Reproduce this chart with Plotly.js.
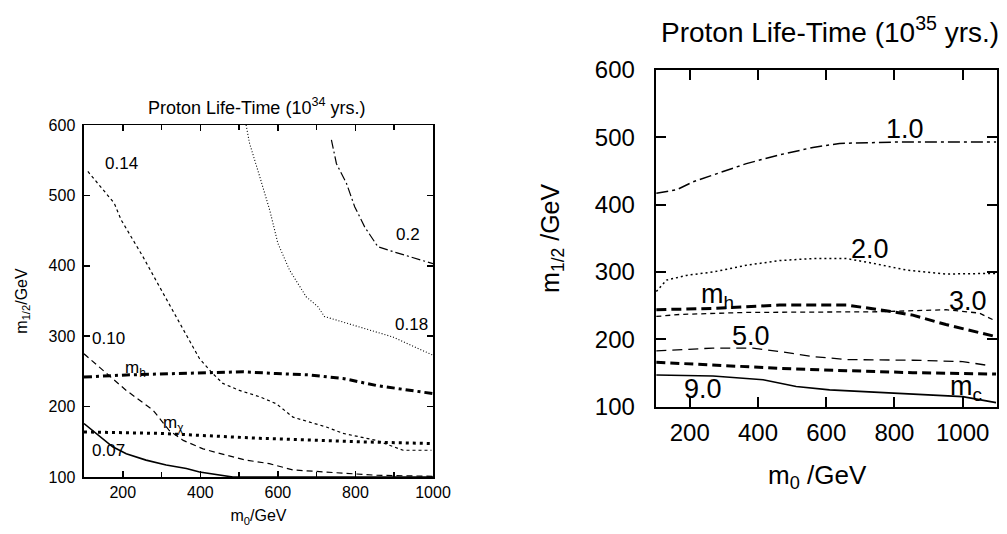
<!DOCTYPE html>
<html>
<head>
<meta charset="utf-8">
<script src="https://cdn.plot.ly/plotly-3.0.1.min.js"></script>
<style>html,body{margin:0;padding:0;background:#fff;}#chart{width:1007px;height:534px;}</style>
</head>
<body>
<div id="chart"></div>
<script>
// ---------- Left panel (10^34 yrs) ----------
const L014_x = [110, 178, 196, 252, 295, 338, 372, 398, 432, 458, 501, 553, 596, 639, 682, 725, 768, 794, 854, 923, 996];
const L014_y = [534, 489, 465, 413, 370, 328, 294, 268, 247, 233, 223, 214, 204, 185, 178, 171, 162, 159, 152, 138, 138];
const L010_x = [100, 140, 209, 278, 320, 356, 407, 467, 518, 578, 639, 725, 778, 854, 1000];
const L010_y = [275, 256, 223, 195, 166, 152, 140, 131, 124, 119, 110, 107, 105, 102.5, 101];
const L007_x = [100, 132, 174, 209, 260, 312, 364, 398, 449, 484, 600, 800, 1000];
const L007_y = [176, 162, 143, 133, 124, 117, 112, 107, 102.5, 100, 100, 100, 100];
const L018_x = [518, 527, 553, 579, 600, 630, 673, 703, 720, 810, 896, 1000];
const L018_y = [600, 574, 527, 479, 432, 394, 356, 342, 328, 313, 299, 273];
const L020_x = [738, 751, 777, 798, 824, 858, 898, 1000];
const L020_y = [579, 545, 517, 484, 455, 427, 420, 403];
const Lmh_x = [100, 209, 339, 425, 510, 596, 682, 768, 854, 1000];
const Lmh_y = [242, 245, 247, 248, 249.5, 247, 245, 240, 230, 218.5];
const Lmchi_x = [100, 295, 553, 811, 1000];
const Lmchi_y = [164, 162, 155, 150, 147.5];

// ---------- Right panel (10^35 yrs) ----------
const R10_x = [102, 161, 210, 268, 366, 463, 561, 639, 707, 805, 1098];
const R10_y = [417, 422, 434, 444, 461, 474, 485, 491, 492, 493, 493];
const R20_x = [102, 132, 190, 268, 366, 463, 561, 659, 737, 834, 951, 1098];
const R20_y = [271, 288, 295, 300, 310, 317, 320, 320, 313, 303, 297, 298];
const Rmh_x = [102, 268, 463, 659, 756, 854, 951, 1098];
const Rmh_y = [244, 246, 251, 251, 244, 236, 222, 204];
const R30_x = [102, 171, 366, 561, 756, 951, 1049, 1098];
const R30_y = [234, 237, 240, 241, 241, 244, 239, 227];
const R50_x = [102, 268, 385, 463, 561, 659, 854, 1000, 1078];
const R50_y = [183, 187, 187, 182, 174.5, 170, 169, 167, 161];
const Rmc_x = [102, 268, 463, 659, 854, 1098];
const Rmc_y = [166, 162, 157, 153.5, 150.5, 148.5];
const R90_x = [102, 268, 415, 512, 610, 756, 902, 1000, 1098];
const R90_y = [147, 145.5, 140, 130, 125, 121, 117, 115, 106];

// tick labels
const leftXTickVals = [200, 400, 600, 800, 1000];
const leftXTickText = ['200', '400', '600', '800', '1000'];
const leftXMinorVals = [300, 500, 700, 900];
const yTickVals = [100, 200, 300, 400, 500, 600];
const yTickText = ['100', '200', '300', '400', '500', '600'];
const rightXTickVals = [200, 400, 600, 800, 1000];
const rightXTickText = ['200', '400', '600', '800', '1000'];

const FONT = 'Liberation Sans, Arial, sans-serif';
const K = '#000';

function tr(x, y, xa, ya, w, dash, name) {
  return {x: x, y: y, xaxis: xa, yaxis: ya, type: 'scatter', mode: 'lines', name: name,
    line: {color: K, width: w, dash: dash}, hoverinfo: 'skip', showlegend: false};
}

const data = [
  tr(L014_x, L014_y, 'x', 'y', 1.2, '3px,3px', '0.14'),
  tr(L010_x, L010_y, 'x', 'y', 1.2, '6px,4px', '0.10'),
  tr(L007_x, L007_y, 'x', 'y', 1.6, 'solid', '0.07'),
  tr(L018_x, L018_y, 'x', 'y', 1.1, '1px,2px', '0.18'),
  tr(L020_x, L020_y, 'x', 'y', 1.2, '9px,3px,2px,3px', '0.2'),
  tr(Lmh_x, Lmh_y, 'x', 'y', 3, '8px,4px,3px,4px', 'm_h'),
  tr(Lmchi_x, Lmchi_y, 'x', 'y', 3, '3px,4px', 'm_chi'),
  tr(R10_x, R10_y, 'x2', 'y2', 1.5, '12px,4px,3px,4px', '1.0'),
  tr(R20_x, R20_y, 'x2', 'y2', 1.5, '2px,3px', '2.0'),
  tr(Rmh_x, Rmh_y, 'x2', 'y2', 3, '10px,5px', 'm_h'),
  tr(R30_x, R30_y, 'x2', 'y2', 1.3, '5px,4px', '3.0'),
  tr(R50_x, R50_y, 'x2', 'y2', 1.3, '10px,6px', '5.0'),
  tr(Rmc_x, Rmc_y, 'x2', 'y2', 3, '9px,5px', 'm_c'),
  tr(R90_x, R90_y, 'x2', 'y2', 1.6, 'solid', '9.0')
];

function ann(text, x, y, xr, yr, size, extra) {
  return Object.assign({text: text, x: x, y: y, xref: xr, yref: yr, showarrow: false,
    xanchor: 'center', yanchor: 'middle',
    font: {family: FONT, size: size, color: K}}, extra || {});
}

const annotations = [
  ann('0.14', 196, 545, 'x', 'y', 17),
  ann('0.10', 164, 297, 'x', 'y', 17),
  ann('0.07', 162, 138, 'x', 'y', 17),
  ann('0.18', 944, 316, 'x', 'y', 17),
  ann('0.2', 935, 444, 'x', 'y', 17),
  ann('m<sub>h</sub>', 232, 254, 'x', 'y', 17),
  ann('m<sub>χ</sub>', 332, 175, 'x', 'y', 17),
  ann('Proton Life-Time (10<sup>34</sup> yrs.)', 0.255, 0.80, 'paper', 'paper', 18),
  ann('1.0', 830, 513, 'x2', 'y2', 27),
  ann('2.0', 727, 334, 'x2', 'y2', 27),
  ann('3.0', 1015, 257, 'x2', 'y2', 27),
  ann('5.0', 380, 205, 'x2', 'y2', 27),
  ann('9.0', 240, 126, 'x2', 'y2', 27),
  ann('m<sub>h</sub>', 282, 265, 'x2', 'y2', 27),
  ann('m<sub>c</sub>', 1010, 128, 'x2', 'y2', 27),
  ann('Proton Life-Time (10<sup>35</sup> yrs.)', 0.824, 0.944, 'paper', 'paper', 28),
  ann('m<sub>0</sub> /GeV', 0.812, 0.108, 'paper', 'paper', 26)
];

const axBase = {showgrid: false, zeroline: false, showline: true, linecolor: K, linewidth: 1.5,
  ticks: 'inside', mirror: 'allticks', tickcolor: K, tickwidth: 1.5, fixedrange: true};

const layout = {
  width: 1007, height: 534,
  margin: {l: 0, r: 0, t: 0, b: 0},
  paper_bgcolor: '#fff', plot_bgcolor: '#fff',
  showlegend: false,
  xaxis: Object.assign({}, axBase, {domain: [0.0834, 0.4300], range: [100, 1000], anchor: 'y',
    tickvals: leftXTickVals, ticktext: leftXTickText, ticklen: 6,
    minor: {tickmode: 'array', tickvals: leftXMinorVals, ticks: 'inside', ticklen: 5, tickwidth: 1.5, tickcolor: K, showgrid: false},
    tickfont: {family: FONT, size: 16, color: K},
    title: {text: 'm<sub>0</sub>/GeV', font: {family: FONT, size: 16, color: K}, standoff: 10}}),
  yaxis: Object.assign({}, axBase, {domain: [0.1067, 0.7659], range: [100, 600], anchor: 'x',
    tickvals: yTickVals, ticktext: yTickText, ticklen: 6, ticklabelstandoff: 4,
    tickfont: {family: FONT, size: 16, color: K},
    title: {text: 'm<sub>1/2</sub>/GeV', font: {family: FONT, size: 16, color: K}, standoff: 17}}),
  xaxis2: Object.assign({}, axBase, {domain: [0.6511, 0.9898], range: [100, 1100], anchor: 'y2',
    linewidth: 2, tickwidth: 2,
    tickvals: rightXTickVals, ticktext: rightXTickText, ticklen: 10, ticklabelstandoff: 4,
    tickfont: {family: FONT, size: 24, color: K}}),
  yaxis2: Object.assign({}, axBase, {domain: [0.2384, 0.8689], range: [100, 600], anchor: 'x2',
    linewidth: 2, tickwidth: 2,
    tickvals: yTickVals, ticktext: yTickText, ticklen: 10, ticklabelstandoff: 14,
    tickfont: {family: FONT, size: 24, color: K},
    title: {text: 'm<sub>1/2</sub> /GeV', font: {family: FONT, size: 25, color: K}, standoff: 28}}),
  annotations: annotations
};

Plotly.newPlot('chart', data, layout, {staticPlot: true, displayModeBar: false});
</script>
</body>
</html>
